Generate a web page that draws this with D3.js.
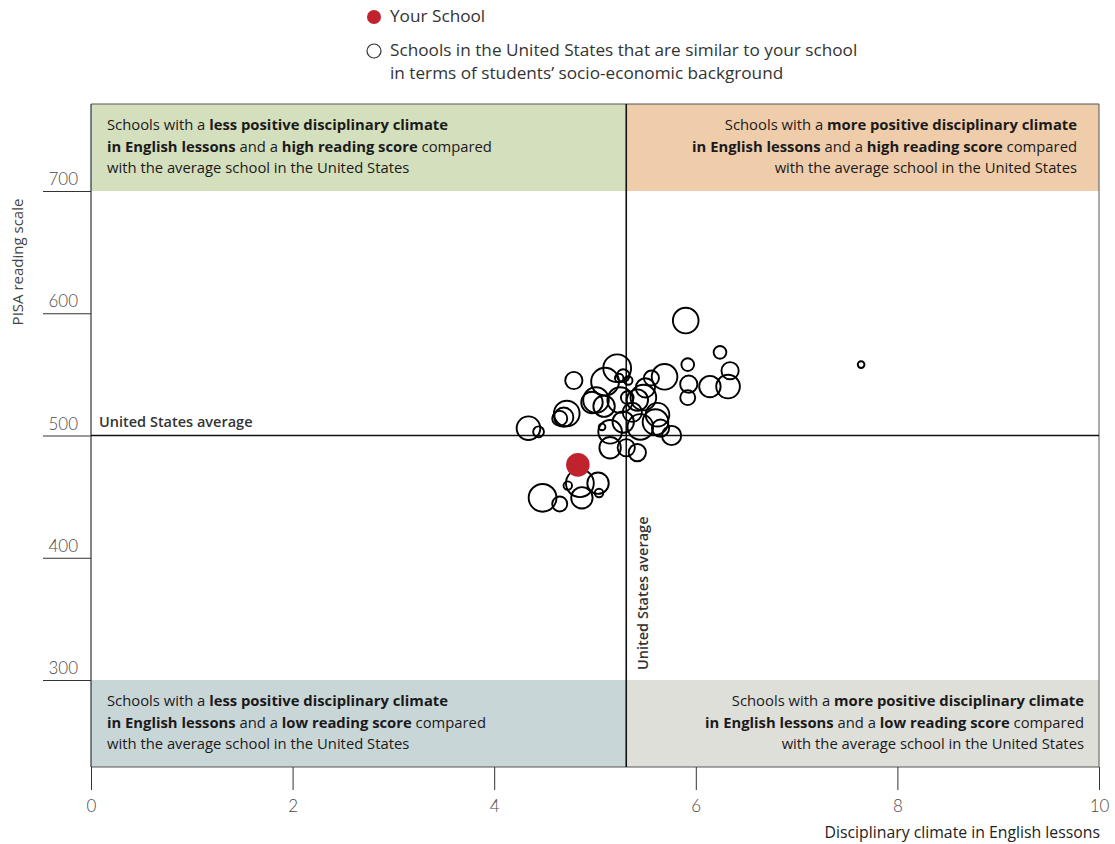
<!DOCTYPE html>
<html>
<head>
<meta charset="utf-8">
<script src="https://cdn.jsdelivr.net/npm/d3@7"></script>
<style>
body { margin: 0; background: #fff; }
svg { font-family: "Open Sans", Lato, sans-serif; }
</style>
</head>
<body>
<svg id="chart" width="1115" height="844"></svg>
<script>
// similar schools: disciplinary climate index, reading score, school weight
var climate = [5.90, 6.24, 5.92, 6.34, 6.32, 6.14, 5.93, 5.92, 4.79, 5.22,
               5.10, 5.69, 5.56, 5.28, 5.24, 5.33, 5.01, 5.09, 5.25, 5.42,
               5.48, 5.32, 4.72, 4.69, 4.65, 4.34, 4.44, 5.62, 5.60, 5.65,
               5.76, 5.28, 5.45, 5.15, 5.07, 5.15, 5.31, 5.42, 4.85, 4.73,
               5.03, 5.04, 4.87, 4.48, 4.65, 7.64, 5.50, 5.37, 4.97]
var reading = [594, 568, 558, 553, 540, 540, 542, 531, 545, 555,
               544, 548, 547, 549, 547, 545, 529, 524, 529, 529,
               531, 531, 518, 515, 514, 506, 503, 517, 511, 506,
               500, 511, 507, 503, 507, 490, 490, 486, 461, 459,
               461, 453, 449, 449, 444, 558, 539, 519, 527]
var weight = [73, 18, 18, 33, 62, 51, 33, 25, 33, 86,
              86, 73, 25, 18, 8, 8, 73, 51, 73, 51,
              73, 18, 73, 41, 25, 62, 13, 62, 73, 33,
              41, 51, 73, 62, 5, 51, 33, 33, 86, 8,
              51, 8, 51, 86, 25, 5, 41, 41, 51]

var yourSchool = {climate: 4.83, reading: 476, weight: 62}
var avgClimate = 5.31
var avgReading = 500

var xTicks = [0, 2, 4, 6, 8, 10]
var yTicks = [300, 400, 500, 600, 700]

var svg = d3.select("#chart")
var plotTop = 104, plotBottom = 767, left = 91, right = 1099

var x = d3.scaleLinear().domain([0, 10]).range([left, right])
var y = d3.scaleLinear().domain([300, 700]).range([680, 191])
var r = d3.scaleSqrt().domain([0, 100]).range([0, 15])

//Quadrant bands
var bands = [
  {x0: left, x1: x(avgClimate), y0: plotTop, y1: y(700), fill: "#d4dfbd"},
  {x0: x(avgClimate), x1: right, y0: plotTop, y1: y(700), fill: "#efcdab"},
  {x0: left, x1: x(avgClimate), y0: y(300), y1: plotBottom, fill: "#c9d6d8"},
  {x0: x(avgClimate), x1: right, y0: y(300), y1: plotBottom, fill: "#dfdfda"}
]
svg.selectAll(".band").data(bands).enter()
  .append("rect")
    .attr("class", "band")
    .attr("x", function(d){ return d.x0 })
    .attr("y", function(d){ return d.y0 })
    .attr("width", function(d){ return d.x1 - d.x0 })
    .attr("height", function(d){ return d.y1 - d.y0 })
    .attr("fill", function(d){ return d.fill })

//Frame
svg.append("line").attr("x1", left).attr("x2", right).attr("y1", plotTop).attr("y2", plotTop)
  .attr("stroke", "#555").attr("stroke-width", 1)
svg.append("line").attr("x1", left).attr("x2", right).attr("y1", plotBottom).attr("y2", plotBottom)
  .attr("stroke", "#555").attr("stroke-width", 1)

//Y axis
var yAxis = svg.append("g")
  .attr("transform", "translate(" + left + ",0)")
  .call(d3.axisLeft(y).tickValues(yTicks).tickSize(48).tickFormat(d3.format("d")))
yAxis.select(".domain").remove()
yAxis.selectAll(".tick line").attr("stroke", "#333")
yAxis.selectAll(".tick text")
  .attr("x", -13).attr("dy", "-0.38em")
  .attr("font-size", 17).attr("fill", "#4a4a4a")
  .attr("font-family", "Lato, sans-serif").attr("font-weight", 300)
svg.append("line").attr("x1", left).attr("x2", left).attr("y1", plotTop).attr("y2", plotBottom)
  .attr("stroke", "#333").attr("stroke-width", 1.2)

//X axis
var xAxis = svg.append("g")
  .attr("transform", "translate(0," + plotBottom + ")")
  .call(d3.axisBottom(x).tickValues(xTicks).tickSize(23).tickPadding(10))
xAxis.select(".domain").remove()
xAxis.selectAll(".tick line").attr("stroke", "#333")
xAxis.selectAll(".tick text")
  .attr("font-size", 17).attr("fill", "#4a4a4a")
  .attr("font-family", "Lato, sans-serif").attr("font-weight", 300)
svg.append("line").attr("x1", right).attr("x2", right).attr("y1", plotTop).attr("y2", plotBottom)
  .attr("stroke", "#555").attr("stroke-width", 1)

//Average lines
svg.append("line")
  .attr("x1", left).attr("x2", right)
  .attr("y1", y(avgReading)).attr("y2", y(avgReading))
  .attr("stroke", "#111").attr("stroke-width", 1.3)
svg.append("line")
  .attr("x1", x(avgClimate)).attr("x2", x(avgClimate))
  .attr("y1", plotTop).attr("y2", plotBottom)
  .attr("stroke", "#111").attr("stroke-width", 1.6)

svg.append("text")
  .attr("x", left + 8).attr("y", y(avgReading) - 9)
  .attr("font-size", 14.5).attr("font-weight", 600).attr("fill", "#333")
  .text("United States average")
svg.append("text")
  .attr("transform", "translate(" + (x(avgClimate) + 22) + ",670) rotate(-90)")
  .attr("font-size", 14.5).attr("font-weight", 600).attr("fill", "#333")
  .text("United States average")

//Quadrant labels
var quads = [
  {x: left + 16, y: 130, anchor: "start", lines: [
    [["Schools with a ", 400], ["less positive disciplinary climate", 700]],
    [["in English lessons", 700], [" and a ", 400], ["high reading score", 700], [" compared", 400]],
    [["with the average school in the United States", 400]]]},
  {x: 1077, y: 130, anchor: "end", lines: [
    [["Schools with a ", 400], ["more positive disciplinary climate", 700]],
    [["in English lessons", 700], [" and a ", 400], ["high reading score", 700], [" compared", 400]],
    [["with the average school in the United States", 400]]]},
  {x: left + 16, y: 706, anchor: "start", lines: [
    [["Schools with a ", 400], ["less positive disciplinary climate", 700]],
    [["in English lessons", 700], [" and a ", 400], ["low reading score", 700], [" compared", 400]],
    [["with the average school in the United States", 400]]]},
  {x: 1084, y: 706, anchor: "end", lines: [
    [["Schools with a ", 400], ["more positive disciplinary climate", 700]],
    [["in English lessons", 700], [" and a ", 400], ["low reading score", 700], [" compared", 400]],
    [["with the average school in the United States", 400]]]}
]
for (var i = 0; i < quads.length; i++) {
  for (var j = 0; j < quads[i].lines.length; j++) {
    var t = svg.append("text")
      .attr("x", quads[i].x).attr("y", quads[i].y + j * 21.5)
      .attr("text-anchor", quads[i].anchor)
      .attr("font-size", 14.8).attr("fill", "#1a1a1a")
    quads[i].lines[j].forEach(function(p){
      t.append("tspan").attr("font-weight", p[1]).text(p[0])
    })
  }
}

//Similar schools
var schools = climate.map(function(c, i){ return {climate: c, reading: reading[i], weight: weight[i]} })
svg.selectAll(".school").data(schools).enter()
  .append("circle")
    .attr("class", "school")
    .attr("cx", function(d){ return x(d.climate) })
    .attr("cy", function(d){ return y(d.reading) })
    .attr("r", function(d){ return r(d.weight) })
    .attr("fill", "none")
    .attr("stroke", "#000")
    .attr("stroke-width", 1.9)

//Your school
svg.append("circle")
  .attr("cx", x(yourSchool.climate))
  .attr("cy", y(yourSchool.reading))
  .attr("r", r(yourSchool.weight))
  .attr("fill", "#c1232e")

//Axis titles
svg.append("text")
  .attr("transform", "translate(23,262) rotate(-90)")
  .attr("text-anchor", "middle")
  .attr("font-size", 15).attr("fill", "#444")
  .text("PISA reading scale")
svg.append("text")
  .attr("x", 1100).attr("y", 838)
  .attr("text-anchor", "end")
  .attr("font-size", 15.8).attr("fill", "#222")
  .text("Disciplinary climate in English lessons")

//Legend
var legend = svg.append("g").attr("transform", "translate(374,0)")
legend.append("circle").attr("cx", 0).attr("cy", 17).attr("r", 7).attr("fill", "#c1232e")
legend.append("text").attr("x", 16).attr("y", 22).attr("font-size", 17.2).attr("fill", "#333")
  .text("Your School")
legend.append("circle").attr("cx", 0).attr("cy", 51).attr("r", 7)
  .attr("fill", "none").attr("stroke", "#333").attr("stroke-width", 1.2)
legend.append("text").attr("x", 16).attr("y", 56).attr("font-size", 17.2).attr("fill", "#333")
  .text("Schools in the United States that are similar to your school")
legend.append("text").attr("x", 16).attr("y", 79).attr("font-size", 17.2).attr("fill", "#333")
  .text("in terms of students\u2019 socio-economic background")
</script>
</body>
</html>
